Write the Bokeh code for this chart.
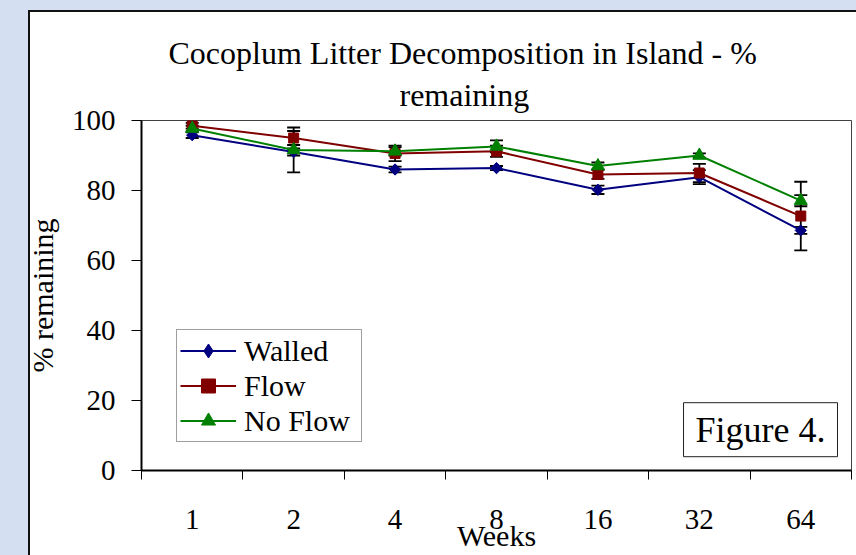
import numpy as np
from bokeh.plotting import figure
from bokeh.models import (Range1d, FixedTicker, Whisker, TeeHead, ColumnDataSource,
                          Label, Legend, LegendItem, Title)
from bokeh.embed import file_html
from bokeh.resources import INLINE

# ---- data ----
weeks = ["1", "2", "4", "8", "16", "32", "64"]
walled = [95.8, 91.0, 86.0, 86.4, 80.2, 83.8, 68.6]
flow = [98.5, 95.0, 90.6, 91.2, 84.6, 85.0, 72.7]
no_flow = [97.7, 91.6, 91.2, 92.6, 87.0, 90.0, 77.1]
walled_err = [0.8, 1.0, 0.8, 0.6, 1.2, 2.0, 1.0]
flow_err = [0.8, 2.0, 2.2, 1.6, 1.3, 2.6, 9.8]
no_flow_err = [0.8, 6.4, 1.2, 1.7, 1.0, 0.6, 1.6]
y_ticks = [0, 20, 40, 60, 80, 100]

FONT = "Liberation Serif"
x = np.arange(len(weeks)) + 0.5

p = figure(width=856, height=555, output_backend="svg", toolbar_location=None,
           x_range=Range1d(0, len(weeks)), y_range=Range1d(0, 100),
           min_border_left=141, min_border_right=5, min_border_top=120, min_border_bottom=85,
           background_fill_color="white", border_fill_color=None,
           outline_line_color="#404040", outline_line_width=1)
# slide background strip and the chart-area box edge
p.styles = {"background-color": "white",
            "box-shadow": "inset 28px 10px 0 0 #d4e0f1, inset 30px 12px 0 0 #111111"}
p.grid.visible = False

# title (two lines, as in the reference)
p.title.text = "Cocoplum Litter Decomposition in Island - %"
p.title.align = "left"
p.title.offset = 27
p.title.vertical_align = "bottom"
p.title.text_font = FONT
p.title.text_font_size = "32px"
p.title.text_font_style = "normal"
p.title.text_color = "black"
p.title.standoff = 0
p.add_layout(Title(text="remaining", align="left", offset=258, vertical_align="top",
                   text_font=FONT, text_font_size="32px", text_font_style="normal",
                   text_color="black", standoff=12), "above")

# x axis: labels at category centres, ticks at category boundaries
xa = p.xaxis[0]
xa.ticker = FixedTicker(ticks=list(x), minor_ticks=list(range(len(weeks) + 1)))
xa.major_label_overrides = {float(v): w for v, w in zip(x, weeks)}
xa.major_tick_line_color = None
xa.major_tick_out = 0
xa.major_tick_in = 0
xa.minor_tick_out = 9
xa.minor_tick_in = 0
xa.minor_tick_line_color = "black"
xa.minor_tick_line_width = 1
xa.axis_line_width = 2
xa.axis_line_color = "black"
xa.major_label_standoff = 30
xa.major_label_text_font = FONT
xa.major_label_text_font_size = "29px"
xa.major_label_text_color = "black"
xa.axis_label = "Weeks"
xa.axis_label_text_font = FONT
xa.axis_label_text_font_size = "30px"
xa.axis_label_text_font_style = "normal"
xa.axis_label_text_color = "black"
xa.axis_label_standoff = -13

ya = p.yaxis[0]
ya.ticker = FixedTicker(ticks=y_ticks)
ya.major_tick_out = 10
ya.major_tick_in = 0
ya.minor_tick_line_color = None
ya.major_tick_line_color = "black"
ya.axis_line_width = 2
ya.axis_line_color = "black"
ya.major_label_standoff = 16
ya.major_label_text_font = FONT
ya.major_label_text_font_size = "29px"
ya.major_label_text_color = "black"
ya.axis_label = "% remaining"
ya.axis_label_text_font = FONT
ya.axis_label_text_font_size = "30px"
ya.axis_label_text_font_style = "normal"
ya.axis_label_text_color = "black"
ya.axis_label_standoff = 10

# (name, values, errors, colour, marker, size, angle, legend marker, legend size)
series = [
    ("Walled", walled, walled_err, "#000080", "square", 8, np.pi / 4, "diamond", 13),
    ("Flow", flow, flow_err, "#800000", "square", 10, 0.0, "square", 10),
    ("No Flow", no_flow, no_flow_err, "#008000", "triangle", 13, 0.0, "triangle", 13),
]

items = []
for name, vals, err, color, marker, size, angle, lmarker, lsize in series:
    vals = np.array(vals)
    err = np.array(err)
    src = ColumnDataSource(dict(x=x, y=vals, upper=vals + err, lower=vals - err))
    p.add_layout(Whisker(source=src, base="x", upper="upper", lower="lower",
                         line_color="black", line_width=1.8,
                         upper_head=TeeHead(size=13, line_color="black", line_width=1.8),
                         lower_head=TeeHead(size=13, line_color="black", line_width=1.8)))
    r1 = p.line("x", "y", source=src, line_color=color, line_width=2)
    p.scatter("x", "y", source=src, marker=marker, size=size, angle=angle,
              fill_color=color, line_color=color)
    # hidden renderer that only supplies the legend sample marker
    rl = p.scatter("x", "y", source=src, marker=lmarker, size=lsize,
                   fill_color=color, line_color=color, visible=False)
    items.append(LegendItem(label=name, renderers=[r1, rl]))

legend = Legend(items=items, location=(35, 28), padding=3, spacing=0,
                glyph_width=56, glyph_height=35, label_height=35, label_standoff=8,
                label_width=114, click_policy="none",
                label_text_font=FONT, label_text_font_size="30px", label_text_color="black",
                border_line_color="#404040", border_line_width=1,
                background_fill_color="white", background_fill_alpha=1.0, margin=0)
p.add_layout(legend)

p.add_layout(Label(x=6.103, y=11.66, text="Figure 4.",
                   text_align="center", text_baseline="middle",
                   text_font=FONT, text_font_size="36px", text_color="black",
                   border_line_color="#222222", border_line_width=1,
                   background_fill_color="white",
                   padding=dict(top=7, right=12, bottom=7, left=12)))

html = file_html(p, INLINE)
open("out.html", "w").write(html)
